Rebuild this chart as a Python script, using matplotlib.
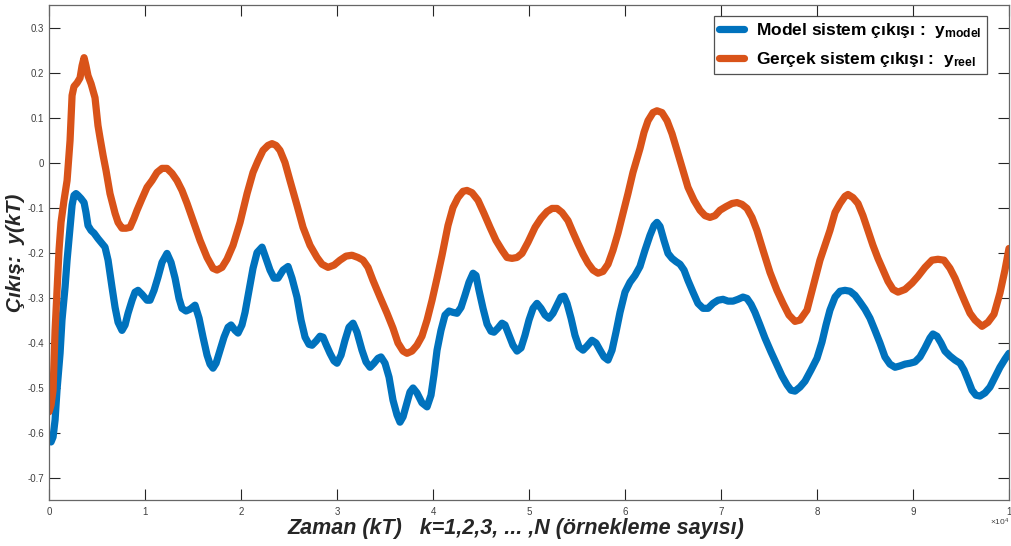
import numpy as np
import matplotlib
matplotlib.use('Agg')
import matplotlib.pyplot as plt
from matplotlib import rcParams

rcParams['font.family'] = ['Liberation Sans', 'DejaVu Sans']
rcParams['mathtext.fontset'] = 'custom'
rcParams['mathtext.rm'] = 'Liberation Sans'
rcParams['mathtext.it'] = 'Liberation Sans:italic'
rcParams['mathtext.bf'] = 'Liberation Sans:bold'

# time axis in units of 10^4 samples
k_real = [0.000, 0.021, 0.042, 0.063, 0.083, 0.104, 0.125, 0.156, 0.188, 0.219,
          0.240, 0.260, 0.292, 0.323, 0.344, 0.365, 0.385, 0.406, 0.438, 0.479,
          0.510, 0.531, 0.563, 0.594, 0.635, 0.688, 0.719, 0.760, 0.802, 0.844,
          0.885, 0.917, 0.969, 1.021, 1.073, 1.125, 1.177, 1.229, 1.281, 1.333,
          1.385, 1.438, 1.500, 1.573, 1.646, 1.708, 1.750, 1.802, 1.854, 1.917,
          1.990, 2.063, 2.125, 2.177, 2.229, 2.281, 2.323, 2.365, 2.406, 2.458,
          2.510, 2.583, 2.646, 2.719, 2.792, 2.844, 2.906, 2.969, 3.031, 3.094,
          3.156, 3.219, 3.271, 3.323, 3.375, 3.448, 3.521, 3.583, 3.635, 3.688,
          3.729, 3.781, 3.833, 3.885, 3.938, 3.990, 4.042, 4.094, 4.156, 4.208,
          4.260, 4.313, 4.354, 4.406, 4.469, 4.531, 4.594, 4.656, 4.719, 4.771,
          4.823, 4.875, 4.927, 4.990, 5.063, 5.125, 5.188, 5.240, 5.292, 5.344,
          5.406, 5.458, 5.510, 5.563, 5.615, 5.667, 5.719, 5.771, 5.823, 5.875,
          5.927, 5.979, 6.031, 6.083, 6.156, 6.198, 6.240, 6.292, 6.333, 6.385,
          6.438, 6.490, 6.542, 6.604, 6.656, 6.719, 6.781, 6.833, 6.885, 6.938,
          6.990, 7.052, 7.115, 7.167, 7.219, 7.271, 7.323, 7.375, 7.438, 7.510,
          7.583, 7.646, 7.708, 7.771, 7.823, 7.896, 7.958, 8.031, 8.083, 8.135,
          8.188, 8.240, 8.292, 8.323, 8.375, 8.427, 8.479, 8.531, 8.583, 8.635,
          8.688, 8.740, 8.792, 8.844, 8.917, 8.990, 9.052, 9.125, 9.198, 9.260,
          9.323, 9.385, 9.438, 9.490, 9.542, 9.594, 9.646, 9.719, 9.781, 9.844,
          9.906, 9.958, 10.000]
y_real = [-0.554, -0.539, -0.506, -0.373, -0.284, -0.195, -0.133, -0.084, -0.040, 0.049,
          0.149, 0.169, 0.177, 0.188, 0.215, 0.233, 0.215, 0.193, 0.175, 0.144,
          0.082, 0.055, 0.016, -0.018, -0.069, -0.113, -0.133, -0.146, -0.146, -0.144,
          -0.124, -0.106, -0.080, -0.055, -0.040, -0.022, -0.013, -0.013, -0.024, -0.040,
          -0.062, -0.091, -0.129, -0.173, -0.211, -0.235, -0.239, -0.233, -0.215, -0.184,
          -0.133, -0.069, -0.022, 0.004, 0.027, 0.038, 0.042, 0.038, 0.027, 0.000,
          -0.040, -0.095, -0.144, -0.184, -0.211, -0.226, -0.233, -0.228, -0.217, -0.208,
          -0.206, -0.211, -0.217, -0.233, -0.262, -0.299, -0.335, -0.368, -0.401, -0.419,
          -0.424, -0.419, -0.406, -0.386, -0.350, -0.306, -0.257, -0.206, -0.140, -0.100,
          -0.078, -0.064, -0.062, -0.067, -0.084, -0.113, -0.144, -0.173, -0.195, -0.211,
          -0.213, -0.211, -0.202, -0.177, -0.144, -0.124, -0.109, -0.102, -0.102, -0.111,
          -0.129, -0.155, -0.180, -0.204, -0.224, -0.239, -0.246, -0.242, -0.226, -0.195,
          -0.157, -0.113, -0.069, -0.022, 0.031, 0.067, 0.093, 0.111, 0.115, 0.111,
          0.093, 0.064, 0.027, -0.018, -0.055, -0.084, -0.106, -0.118, -0.122, -0.118,
          -0.106, -0.098, -0.091, -0.089, -0.093, -0.102, -0.122, -0.151, -0.195, -0.244,
          -0.284, -0.313, -0.339, -0.353, -0.350, -0.328, -0.277, -0.217, -0.184, -0.151,
          -0.111, -0.091, -0.075, -0.071, -0.078, -0.091, -0.118, -0.151, -0.184, -0.213,
          -0.239, -0.264, -0.282, -0.288, -0.282, -0.268, -0.253, -0.233, -0.217, -0.215,
          -0.217, -0.235, -0.257, -0.284, -0.310, -0.335, -0.350, -0.364, -0.355, -0.337,
          -0.290, -0.239, -0.191]

k_model = [0.000, 0.021, 0.042, 0.063, 0.083, 0.115, 0.135, 0.167, 0.188, 0.219,
           0.240, 0.260, 0.281, 0.302, 0.333, 0.365, 0.385, 0.406, 0.438, 0.469,
           0.510, 0.552, 0.583, 0.615, 0.656, 0.688, 0.719, 0.760, 0.792, 0.823,
           0.865, 0.896, 0.927, 0.969, 1.021, 1.052, 1.094, 1.135, 1.177, 1.229,
           1.271, 1.313, 1.354, 1.385, 1.427, 1.469, 1.521, 1.563, 1.604, 1.646,
           1.677, 1.708, 1.740, 1.781, 1.823, 1.865, 1.896, 1.938, 1.969, 2.010,
           2.042, 2.083, 2.125, 2.167, 2.219, 2.260, 2.302, 2.344, 2.385, 2.438,
           2.490, 2.531, 2.583, 2.625, 2.667, 2.708, 2.740, 2.781, 2.823, 2.854,
           2.885, 2.927, 2.969, 3.000, 3.042, 3.083, 3.125, 3.167, 3.208, 3.260,
           3.302, 3.344, 3.385, 3.427, 3.458, 3.500, 3.542, 3.583, 3.625, 3.656,
           3.688, 3.729, 3.760, 3.792, 3.833, 3.885, 3.938, 3.979, 4.010, 4.042,
           4.083, 4.125, 4.167, 4.208, 4.250, 4.292, 4.333, 4.375, 4.417, 4.448,
           4.479, 4.521, 4.563, 4.604, 4.635, 4.677, 4.719, 4.750, 4.792, 4.833,
           4.875, 4.917, 4.958, 5.000, 5.042, 5.083, 5.125, 5.167, 5.208, 5.250,
           5.292, 5.333, 5.365, 5.396, 5.438, 5.479, 5.521, 5.563, 5.604, 5.656,
           5.698, 5.740, 5.781, 5.823, 5.865, 5.906, 5.948, 6.000, 6.052, 6.104,
           6.156, 6.208, 6.260, 6.302, 6.333, 6.365, 6.406, 6.448, 6.490, 6.531,
           6.573, 6.615, 6.656, 6.708, 6.760, 6.813, 6.865, 6.917, 6.969, 7.021,
           7.073, 7.125, 7.177, 7.229, 7.271, 7.313, 7.354, 7.406, 7.458, 7.521,
           7.583, 7.635, 7.688, 7.729, 7.771, 7.823, 7.875, 7.938, 8.000, 8.052,
           8.094, 8.135, 8.188, 8.240, 8.292, 8.344, 8.396, 8.448, 8.500, 8.552,
           8.604, 8.656, 8.708, 8.760, 8.813, 8.865, 8.917, 8.969, 9.021, 9.073,
           9.125, 9.177, 9.208, 9.250, 9.292, 9.333, 9.385, 9.438, 9.490, 9.531,
           9.573, 9.615, 9.656, 9.698, 9.750, 9.802, 9.854, 9.906, 9.958, 10.000]
y_model = [-0.616, -0.621, -0.610, -0.572, -0.506, -0.424, -0.350, -0.277, -0.217, -0.144,
           -0.095, -0.073, -0.069, -0.073, -0.080, -0.089, -0.111, -0.140, -0.151, -0.157,
           -0.169, -0.180, -0.188, -0.217, -0.277, -0.322, -0.355, -0.373, -0.361, -0.335,
           -0.306, -0.288, -0.284, -0.293, -0.306, -0.306, -0.284, -0.255, -0.222, -0.202,
           -0.222, -0.257, -0.302, -0.324, -0.330, -0.326, -0.317, -0.346, -0.388, -0.428,
           -0.448, -0.457, -0.446, -0.417, -0.388, -0.366, -0.361, -0.373, -0.379, -0.361,
           -0.333, -0.284, -0.235, -0.200, -0.188, -0.213, -0.239, -0.257, -0.257, -0.239,
           -0.231, -0.257, -0.299, -0.350, -0.388, -0.404, -0.406, -0.397, -0.386, -0.388,
           -0.404, -0.424, -0.441, -0.446, -0.428, -0.395, -0.366, -0.357, -0.377, -0.417,
           -0.443, -0.455, -0.446, -0.435, -0.432, -0.446, -0.477, -0.528, -0.561, -0.577,
           -0.565, -0.534, -0.510, -0.501, -0.512, -0.534, -0.543, -0.517, -0.472, -0.417,
           -0.373, -0.339, -0.330, -0.333, -0.335, -0.322, -0.295, -0.266, -0.246, -0.251,
           -0.284, -0.324, -0.359, -0.375, -0.377, -0.368, -0.357, -0.361, -0.384, -0.406,
           -0.419, -0.412, -0.384, -0.350, -0.324, -0.313, -0.324, -0.339, -0.346, -0.335,
           -0.317, -0.299, -0.297, -0.313, -0.346, -0.384, -0.410, -0.417, -0.408, -0.395,
           -0.401, -0.417, -0.432, -0.439, -0.417, -0.377, -0.333, -0.288, -0.266, -0.251,
           -0.231, -0.195, -0.162, -0.140, -0.133, -0.142, -0.173, -0.202, -0.213, -0.220,
           -0.226, -0.239, -0.262, -0.288, -0.313, -0.324, -0.324, -0.313, -0.306, -0.304,
           -0.308, -0.308, -0.304, -0.299, -0.302, -0.315, -0.333, -0.361, -0.390, -0.421,
           -0.450, -0.474, -0.494, -0.506, -0.508, -0.499, -0.486, -0.461, -0.435, -0.399,
           -0.361, -0.328, -0.299, -0.286, -0.284, -0.286, -0.295, -0.310, -0.326, -0.346,
           -0.373, -0.401, -0.432, -0.448, -0.455, -0.452, -0.448, -0.446, -0.443, -0.432,
           -0.412, -0.390, -0.381, -0.386, -0.401, -0.419, -0.430, -0.439, -0.446, -0.461,
           -0.483, -0.506, -0.517, -0.519, -0.512, -0.499, -0.477, -0.455, -0.437, -0.424]

xtick_vals = list(range(0, 11))
xtick_labels = ['0', '1', '2', '3', '4', '5', '6', '7', '8', '9', '1']
ytick_vals = [0.3, 0.2, 0.1, 0, -0.1, -0.2, -0.3, -0.4, -0.5, -0.6, -0.7]
ytick_labels = ['0.3', '0.2', '0.1', '0', '-0.1', '-0.2', '-0.3', '-0.4', '-0.5', '-0.6', '-0.7']

fig = plt.figure(figsize=(10.11, 5.46), dpi=100)
ax = fig.add_axes([0.0485, 0.0842, 0.9495, 0.9066])

ax.plot(k_model, y_model, color='#0072BD', lw=5.2, solid_capstyle='round',
        solid_joinstyle='round', label=r'Model sistem çıkışı :  y$_{\mathbf{model}}$')
ax.plot(k_real, y_real, color='#D95319', lw=5.2, solid_capstyle='round',
        solid_joinstyle='round', label=r'Gerçek sistem çıkışı :  y$_{\mathbf{reel}}$')

ax.set_xlim(0, 10)
ax.set_ylim(-0.75, 0.35)
ax.set_xticks(xtick_vals)
ax.set_xticklabels(xtick_labels)
ax.set_yticks(ytick_vals)
ax.set_yticklabels(ytick_labels)
ax.tick_params(axis='both', which='both', direction='in', top=True, right=True,
               length=8, width=0.8, color='#262626', labelsize=7, labelcolor='#404040')
ax.tick_params(axis='x', pad=5)
for s in ax.spines.values():
    s.set_color('#666666')
    s.set_linewidth(0.9)

ax.set_xlabel('Zaman (kT)   k=1,2,3, ... ,N (örnekleme sayısı)', fontsize=15.5,
              fontweight='bold', fontstyle='italic', color='#262626', labelpad=2)
ax.xaxis.set_label_coords(0.486, -0.036)
ax.set_ylabel('Çıkış:  y(kT)', fontsize=15, fontweight='bold', fontstyle='italic',
              color='#262626', labelpad=2)
ax.text(1.0, -0.045, r'$\times10^{4}$', transform=ax.transAxes, fontsize=6,
        color='#404040', ha='right', va='center')

leg = ax.legend(loc='upper right', bbox_to_anchor=(0.977, 0.978), borderaxespad=0,
                fancybox=False, handlelength=1.45, handletextpad=0.7,
                prop={'size': 12.5, 'weight': 'bold'}, labelspacing=0.55,
                borderpad=0.3)
leg.get_frame().set_edgecolor('#262626')
leg.get_frame().set_linewidth(0.9)

fig.savefig('out.png', dpi=100)
